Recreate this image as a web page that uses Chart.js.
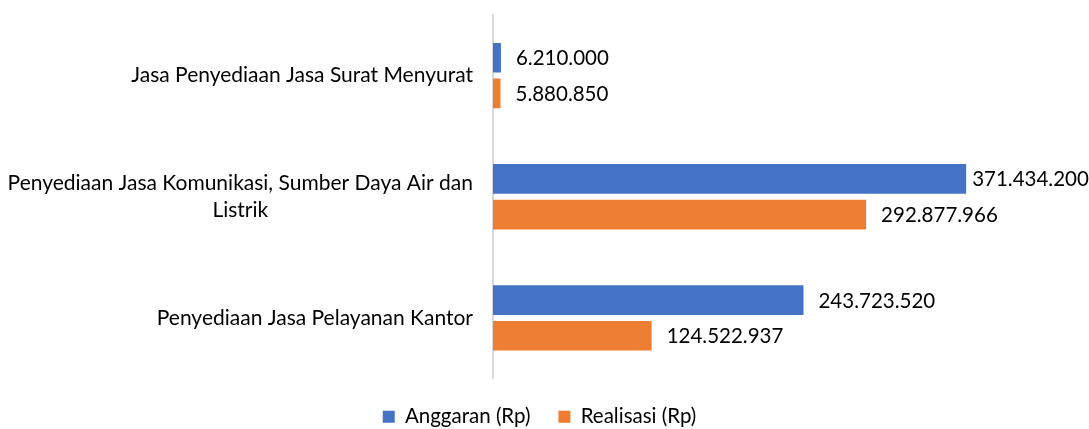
<!DOCTYPE html>
<html>
<head>
<meta charset="utf-8">
<script src="https://cdn.jsdelivr.net/npm/chart.js@4.4.0/dist/chart.umd.min.js"></script>
<style>
  html, body { margin: 0; padding: 0; background: #fff; }
</style>
</head>
<body>
<canvas id="belanjaJasaChart" width="1089" height="429"></canvas>
<script>
// Data dari gambar
const kategori = [
  'Jasa Penyediaan Jasa Surat Menyurat',
  ['Penyediaan Jasa Komunikasi, Sumber Daya Air dan', 'Listrik'],
  'Penyediaan Jasa Pelayanan Kantor'
];
const anggaran = [6210000, 371434200, 243723520];
const realisasi = [5880850, 292877966, 124522937];
const namaSeri = ['Anggaran (Rp)', 'Realisasi (Rp)'];

const FONT = 'Lato, "Open Sans", sans-serif';

function formatRp(v) {
  return v.toString().replace(/\B(?=(\d{3})+(?!\d))/g, '.');
}

// label kategori: blok rata kanan, baris di tengah blok (seperti Excel)
const labelKategori = {
  id: 'labelKategori',
  afterDraw(chart) {
    const ctx = chart.ctx;
    const y = chart.scales.y;
    const kanan = chart.chartArea.left - 20;
    ctx.save();
    ctx.font = '21px ' + FONT;
    ctx.fillStyle = '#000';
    ctx.textAlign = 'center';
    ctx.textBaseline = 'middle';
    kategori.forEach((lbl, i) => {
      const baris = Array.isArray(lbl) ? lbl : [lbl];
      let lebar = 0;
      for (let b of baris) lebar = Math.max(lebar, ctx.measureText(b).width);
      const cx = kanan - lebar / 2;
      const cy = y.getPixelForValue(i);
      const lh = 27;
      baris.forEach((b, j) => {
        ctx.fillText(b, cx, cy - (baris.length - 1) * lh / 2 + j * lh);
      });
    });
    ctx.restore();
  }
};

// label nilai di ujung batang
const labelNilai = {
  id: 'labelNilai',
  afterDatasetsDraw(chart) {
    const ctx = chart.ctx;
    ctx.save();
    ctx.font = '20.5px ' + FONT;
    ctx.fillStyle = '#000';
    ctx.textAlign = 'left';
    ctx.textBaseline = 'middle';
    chart.data.datasets.forEach((ds, d) => {
      const meta = chart.getDatasetMeta(d);
      meta.data.forEach((bar, i) => {
        const teks = formatRp(ds.data[i]);
        const w = ctx.measureText(teks).width;
        let x = bar.x + 15;
        // geser ke kiri kalau keluar kanvas, tapi tetap di luar batang
        if (x + w > chart.width - 2) x = Math.max(bar.x + 6, chart.width - 2 - w);
        ctx.fillText(teks, x, bar.y + 1);
      });
    });
    ctx.restore();
  }
};

const ctx = document.getElementById('belanjaJasaChart').getContext('2d');
const chart = new Chart(ctx, {
  type: 'bar',
  data: {
    labels: kategori,
    datasets: [
      {
        label: namaSeri[0],
        data: anggaran,
        backgroundColor: '#4472C4',
        categoryPercentage: 0.59,
        barPercentage: 0.83
      },
      {
        label: namaSeri[1],
        data: realisasi,
        backgroundColor: '#ED7D31',
        categoryPercentage: 0.59,
        barPercentage: 0.83
      }
    ]
  },
  options: {
    indexAxis: 'y',
    responsive: false,
    animation: false,
    layout: {
      padding: { top: 15, right: 10, bottom: -8, left: 0 }
    },
    scales: {
      x: {
        display: false,
        min: 0,
        max: 460000000
      },
      y: {
        ticks: { display: false },
        grid: { display: false, drawTicks: false },
        border: { display: true, color: '#d9d9d9', width: 2 },
        afterFit(scale) { scale.width = 493; }
      }
    },
    plugins: {
      legend: {
        position: 'bottom',
        labels: {
          font: { family: FONT, size: 20.5 },
          color: '#000',
          boxWidth: 12,
          boxHeight: 12,
          padding: 28
        }
      },
      tooltip: { enabled: false }
    }
  },
  plugins: [labelKategori, labelNilai]
});
</script>
</body>
</html>
